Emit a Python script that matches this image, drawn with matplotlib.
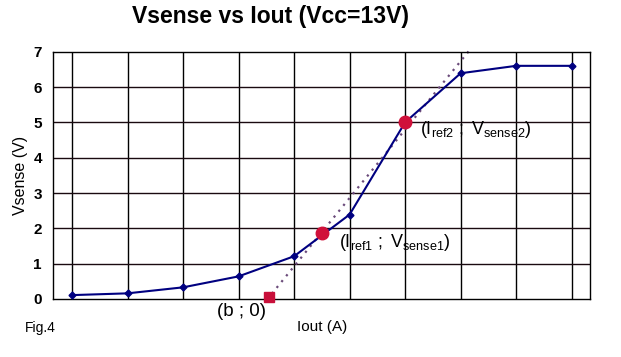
import matplotlib
matplotlib.use("Agg")
import matplotlib.pyplot as plt

plt.rcParams['font.family'] = ['Liberation Sans', 'DejaVu Sans']
plt.rcParams['mathtext.fontset'] = 'custom'
plt.rcParams['mathtext.rm'] = 'Liberation Sans'
plt.rcParams['mathtext.it'] = 'Liberation Sans'

# data
x_pos = [1, 2, 3, 4, 5, 6, 7, 8, 9, 10]
vsense = [0.11, 0.16, 0.33, 0.64, 1.21, 2.39, 5.0, 6.39, 6.6, 6.6]
ref_x = [5.5, 7.0]
ref_y = [1.86, 5.0]
b_x = [4.54]
b_y = [0.05]
tan_x = [4.6, 8.18]
tan_y = [0.15, 7.08]
y_ticks = [0, 1, 2, 3, 4, 5, 6, 7]

fig = plt.figure(figsize=(6.21, 3.57), dpi=100)
ax = fig.add_axes([53/621, 1-299/357, (590-53)/621, (299-51.7)/357])

for xv in x_pos:
    ax.axvline(xv, color='black', lw=1.0, zorder=1)
for yv in y_ticks[1:-1]:
    ax.axhline(yv, color='#1a0a10', lw=1.0, zorder=1)

ax.plot(tan_x, tan_y, linestyle=(0, (1, 2.4)), color='#6a4a7a', lw=1.6,
        zorder=2, clip_on=False)
ax.plot(x_pos, vsense, color='#000080', lw=1.5, marker='D', ms=3.5,
        zorder=3, clip_on=False)
ax.plot(ref_x, ref_y, 'o', color='#d0103a', ms=9, zorder=4)
ax.plot(b_x, b_y, 's', color='#c8103a', ms=6.5, zorder=4, clip_on=False)

ax.set_xlim(0.658, 10.33)
ax.set_ylim(0, 7)
ax.set_xticks([])
ax.set_yticks(y_ticks)
ax.tick_params(axis='y', length=0, pad=8, labelsize=11)
for lab in ax.get_yticklabels():
    lab.set_fontweight('bold')
for s in ax.spines.values():
    s.set_color('black')
    s.set_linewidth(1.0)

ax.set_ylabel('Vsense (V)', fontsize=11.5, labelpad=4)

ax.text(4.06, -0.36, '(b ; 0)', fontsize=13.5, ha='center', va='center')
ax.text(5.81, 1.59, r'$\mathrm{(I_{ref1}\ ;\ V_{sense1})}$', fontsize=13,
        ha='left', va='center')
ax.text(7.27, 4.79, r'$\mathrm{(I_{ref2}\ ;\ V_{sense2})}$', fontsize=13,
        ha='left', va='center')

fig.text(322/621, 1-327/357, 'Iout (A)', fontsize=11, ha='center', va='center')
fig.text(25/621, 1-328/357, 'Fig.4', fontsize=10, ha='left', va='center')
fig.text(270/621, 1-16/357, 'Vsense vs Iout (Vcc=13V)', fontsize=16.5,
         fontweight='bold', ha='center', va='center')

fig.savefig('out.png', dpi=100)
